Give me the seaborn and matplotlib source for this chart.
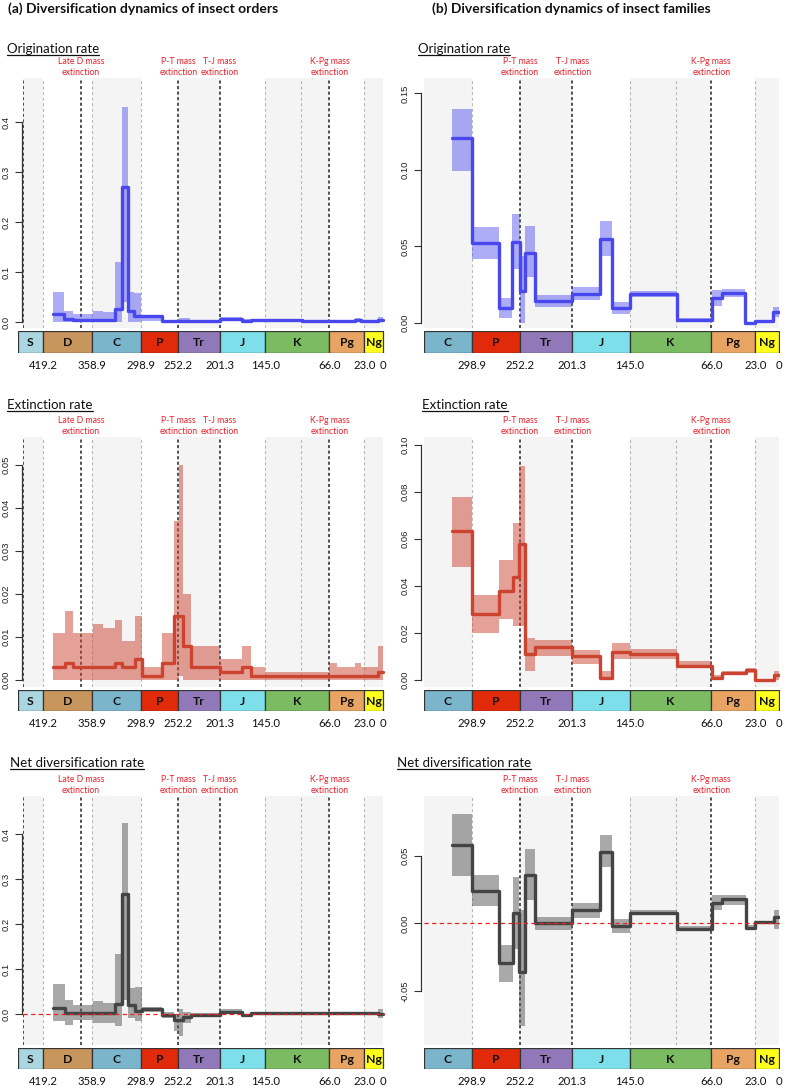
import numpy as np
import matplotlib
matplotlib.use('Agg')
import matplotlib.pyplot as plt
import seaborn as sns
from matplotlib.lines import Line2D

# ---------------- data ----------------
periods = ['S', 'D', 'C', 'P', 'Tr', 'J', 'K', 'Pg', 'Ng']
period_start = [443.8, 419.2, 358.9, 298.9, 252.2, 201.3, 145.0, 66.0, 23.0]
period_end = [419.2, 358.9, 298.9, 252.2, 201.3, 145.0, 66.0, 23.0, 0.0]
period_colors = ['#a9d6e0', '#c8965c', '#7ab5cb', '#e02a0a', '#9179b9',
                 '#7ddfe9', '#7bbb62', '#e8a462', '#ffff1e']
shaded_periods = ['S', 'C', 'Tr', 'K', 'Ng']

left_ticks = [419.2, 358.9, 298.9, 252.2, 201.3, 145.0, 66.0, 23.0, 0.0]
left_tick_labels = ['419.2', '358.9', '298.9', '252.2', '201.3', '145.0', '66.0', '23.0', '0']
right_ticks = [298.9, 252.2, 201.3, 145.0, 66.0, 23.0, 0.0]
right_tick_labels = ['298.9', '252.2', '201.3', '145.0', '66.0', '23.0', '0']

light_lines_left = [419.2, 358.9, 298.9, 145.0, 100.5, 23.0]
light_lines_right = [298.9, 145.0, 100.5, 23.0]
mass_ext_left = [443.8, 372.2, 252.2, 201.3, 66.0]
mass_ext_right = [252.2, 201.3, 66.0]
mass_labels_left = {372.2: 'Late D mass\nextinction', 252.2: 'P-T mass\nextinction',
                    201.3: 'T-J mass\nextinction', 66.0: 'K-Pg mass\nextinction'}
mass_labels_right = {252.2: 'P-T mass\nextinction', 201.3: 'T-J mass\nextinction',
                     66.0: 'K-Pg mass\nextinction'}

# insect orders
ord_orig_t = [407, 393, 382, 358, 345, 330, 322, 315, 307, 298.9, 272, 252, 238, 201.3,
              174, 163, 100, 57, 35, 27, 6, 0]
ord_orig_mean = [0.017, 0.006, 0.005, 0.005, 0.005, 0.027, 0.270, 0.023, 0.012, 0.012, 0.003,
                 0.003, 0.003, 0.007, 0.003, 0.004, 0.003, 0.002, 0.005, 0.002, 0.004]
ord_orig_lo = [0.0, 0.0, 0.0, 0.0, 0.0, 0.0, 0.040, 0.0, 0.0, 0.003, 0.0, 0.0, 0.0, 0.002,
               0.0, 0.001, 0.001, 0.0, 0.001, 0.0, 0.001]
ord_orig_hi = [0.060, 0.022, 0.017, 0.022, 0.020, 0.120, 0.430, 0.060, 0.058, 0.014, 0.005,
               0.008, 0.005, 0.011, 0.006, 0.007, 0.005, 0.004, 0.008, 0.004, 0.010]

ord_ext_t = [407, 392, 382, 358, 345, 330, 322, 306, 297, 272, 258, 252, 247, 237, 201.3,
             174, 163, 145, 66, 57, 35, 27, 6, 0]
ord_ext_mean = [0.003, 0.004, 0.003, 0.003, 0.003, 0.004, 0.003, 0.005, 0.001, 0.004, 0.015,
                0.015, 0.008, 0.003, 0.002, 0.003, 0.001, 0.001, 0.001, 0.001, 0.001, 0.001, 0.002]
ord_ext_lo = [0.0, 0.0, 0.0, 0.0, 0.0, 0.0, 0.0, 0.0, 0.0, 0.0, 0.0, 0.001, 0.0, 0.0, 0.0,
              0.0, 0.0, 0.0, 0.0, 0.0, 0.0, 0.0, 0.0]
ord_ext_hi = [0.011, 0.016, 0.011, 0.013, 0.012, 0.014, 0.009, 0.015, 0.003, 0.011, 0.037,
              0.050, 0.020, 0.008, 0.005, 0.008, 0.003, 0.002, 0.004, 0.003, 0.004, 0.003, 0.008]

ord_net_t = [407, 392, 382, 358, 345, 330, 322, 315, 306, 297, 272, 258, 252, 247, 237, 201.3,
             174, 163, 6, 0]
ord_net_mean = [0.014, 0.002, 0.002, 0.002, 0.002, 0.022, 0.267, 0.020, 0.006, 0.010, -0.003,
                -0.013, -0.013, -0.007, -0.002, 0.005, -0.002, 0.002, 0.001]
ord_net_lo = [-0.015, -0.024, -0.013, -0.020, -0.020, -0.027, 0.030, -0.010, -0.015, 0.004,
              -0.008, -0.037, -0.050, -0.020, -0.005, 0.000, -0.007, -0.002, -0.008]
ord_net_hi = [0.066, 0.030, 0.020, 0.028, 0.025, 0.133, 0.425, 0.058, 0.060, 0.015, 0.005,
              0.000, 0.010, 0.004, 0.002, 0.010, 0.001, 0.004, 0.010]

# insect families
fam_orig_t = [318, 298.9, 272.6, 259.7, 252.2, 247.3, 237.6, 201.3, 174.3, 163, 145, 99.6,
              65.5, 55.8, 33, 23, 5.5, 0]
fam_orig_mean = [0.121, 0.052, 0.010, 0.053, 0.021, 0.046, 0.0143, 0.019, 0.055, 0.0098,
                 0.0187, 0.002, 0.016, 0.0198, 0.0, 0.001, 0.007]
fam_orig_lo = [0.099, 0.042, 0.003, 0.035, 0.0, 0.030, 0.0104, 0.0152, 0.044, 0.006, 0.017,
               0.001, 0.011, 0.017, -0.0005, 0.0, 0.004]
fam_orig_hi = [0.140, 0.063, 0.0165, 0.071, 0.044, 0.0635, 0.018, 0.0235, 0.0665, 0.0135,
               0.0207, 0.003, 0.0217, 0.0224, 0.0007, 0.002, 0.0104]

fam_ext_t = [318, 298.9, 272.3, 259.3, 252.8, 247.3, 237.6, 201.3, 174.3, 163, 145, 99.6,
             65.6, 55.8, 32.2, 23, 5.2, 0]
fam_ext_mean = [0.0633, 0.028, 0.038, 0.044, 0.058, 0.011, 0.014, 0.010, 0.0007, 0.012, 0.011,
                0.006, 0.001, 0.003, 0.0043, 0.0, 0.002]
fam_ext_lo = [0.048, 0.020, 0.026, 0.023, 0.023, 0.004, 0.010, 0.007, 0.0, 0.009, 0.009,
              0.005, 0.0, 0.002, 0.003, -0.0005, 0.0]
fam_ext_hi = [0.078, 0.036, 0.051, 0.067, 0.091, 0.018, 0.017, 0.0126, 0.004, 0.0157, 0.013,
              0.008, 0.002, 0.004, 0.005, 0.0005, 0.004]

fam_net_t = [318, 298.9, 272.3, 259.3, 252.8, 247.3, 237.6, 201.3, 174.3, 163, 145, 99.6,
             65.6, 55.8, 32.2, 23, 5.2, 0]
fam_net_mean = [0.058, 0.024, -0.029, 0.008, -0.036, 0.036, 0.0005, 0.010, 0.053, -0.002,
                0.008, -0.004, 0.015, 0.018, -0.003, 0.001, 0.005]
fam_net_lo = [0.035, 0.013, -0.043, -0.019, -0.076, 0.017, -0.005, 0.004, 0.042, -0.007,
              0.006, -0.005, 0.010, 0.014, -0.005, 0.0, -0.004]
fam_net_hi = [0.081, 0.036, -0.016, 0.034, 0.010, 0.055, 0.0047, 0.015, 0.065, 0.003, 0.010,
              -0.002, 0.021, 0.021, -0.001, 0.002, 0.010]

# ---------------- style ----------------
sns.set_theme(style='white')
plt.rcParams['font.family'] = ['Lato', 'DejaVu Sans']
plt.rcParams['lines.scale_dashes'] = False

W, H = 787, 1090
fig = plt.figure(figsize=(W / 100, H / 100), dpi=100)


def add_ax(x0, y0, x1, y1):
    return fig.add_axes([x0 / W, 1 - y1 / H, (x1 - x0) / W, (y1 - y0) / H])


cols = {
    'left': dict(x0=23, x1=385, bx0=18, xlim=(443.9, -2.47), bxlim=(450.1, -2.47),
                 light=light_lines_left, black=mass_ext_left, mlabels=mass_labels_left,
                 ticks=left_ticks, tlabels=left_tick_labels, off=1, tx=[7, 7, 10]),
    'right': dict(x0=424, x1=780, bx0=424, xlim=(345.7, -0.97), bxlim=(345.7, -0.97),
                  light=light_lines_right, black=mass_ext_right, mlabels=mass_labels_right,
                  ticks=right_ticks, tlabels=right_tick_labels, off=2.2, tx=[418, 422, 397]),
}
rows = [
    dict(y0=78, y1=328, by0=331, by1=353, tb=53, title='Origination rate',
         line='#4848ee', band='#4848ee', balpha=0.45, zero=False),
    dict(y0=437, y1=687, by0=690, by1=711, tb=409, title='Extinction rate',
         line='#cc4430', band='#cc4430', balpha=0.5, zero=False),
    dict(y0=796, y1=1045, by0=1048, by1=1069, tb=767, title='Net diversification rate',
         line='#444444', band='#555555', balpha=0.5, zero=True),
]
series = {
    ('left', 0): (ord_orig_t, ord_orig_mean, ord_orig_lo, ord_orig_hi),
    ('left', 1): (ord_ext_t, ord_ext_mean, ord_ext_lo, ord_ext_hi),
    ('left', 2): (ord_net_t, ord_net_mean, ord_net_lo, ord_net_hi),
    ('right', 0): (fam_orig_t, fam_orig_mean, fam_orig_lo, fam_orig_hi),
    ('right', 1): (fam_ext_t, fam_ext_mean, fam_ext_lo, fam_ext_hi),
    ('right', 2): (fam_net_t, fam_net_mean, fam_net_lo, fam_net_hi),
}
ylims = {
    ('left', 0): (-0.012, 0.488), ('left', 1): (-0.0016, 0.0565), ('left', 2): (-0.069, 0.4844),
    ('right', 0): (-0.0033, 0.1601), ('right', 1): (-0.003, 0.1034), ('right', 2): (-0.0897, 0.0941),
}
yticks = {
    ('left', 0): ([0, 0.1, 0.2, 0.3, 0.4], '%.1f'),
    ('left', 1): ([0, 0.01, 0.02, 0.03, 0.04, 0.05], '%.2f'),
    ('left', 2): ([0, 0.1, 0.2, 0.3, 0.4], '%.1f'),
    ('right', 0): ([0, 0.05, 0.10, 0.15], '%.2f'),
    ('right', 1): ([0, 0.02, 0.04, 0.06, 0.08, 0.10], '%.2f'),
    ('right', 2): ([-0.05, 0, 0.05], '%.2f'),
}

subtitles = []
for ck, c in cols.items():
    for ri, r in enumerate(rows):
        ax = add_ax(c['x0'], r['y0'], c['x1'], r['y1'])
        ax.set_facecolor('white')
        ax.set_xlim(*c['xlim'])
        ax.set_ylim(*ylims[(ck, ri)])
        # period shading
        for name, s, e in zip(periods, period_start, period_end):
            if name in shaded_periods:
                ax.axvspan(s, e, color='#f4f4f4', lw=0, zorder=0)
        for xv in c['light']:
            ax.axvline(xv, color='#b8b8b8', lw=0.8, dashes=(2.2, 1.8), zorder=1)
        for xv in c['black']:
            ax.axvline(xv, color='#222222', lw=1.1, dashes=(2.2, 1.8), zorder=1)
        t, m, lo, hi = series[(ck, ri)]
        xs = list(t)
        ax.fill_between(xs, list(lo) + [lo[-1]], list(hi) + [hi[-1]], step='post',
                        color=r['band'], alpha=r['balpha'], lw=0, zorder=2)
        sns.lineplot(x=xs, y=list(m) + [m[-1]], sort=False, estimator=None,
                     drawstyle='steps-post', color=r['line'], lw=2.4, ax=ax, zorder=3)
        if r['zero']:
            ax.axhline(0, color='#ee2020', lw=0.9, dashes=(3, 2.5), zorder=5)
        tk, fmt = yticks[(ck, ri)]
        ax.set_xticks([])
        ax.set_yticks(tk)
        for sp in ax.spines.values():
            sp.set_color('#333333')
            sp.set_linewidth(0.9)
        sns.despine(ax=ax, bottom=True, offset={'left': c['off']}, trim=True)
        ax.set_ylim(*ylims[(ck, ri)])
        ax.set_yticks(tk)
        ax.set_yticklabels([fmt % v for v in tk], rotation=90, va='center',
                           family=['Liberation Sans'], fontsize=6.8, color='#222222')
        ax.tick_params(axis='y', length=5, width=0.8, color='#333333', pad=3, left=True)
        # mass extinction labels
        for xv, lab in c['mlabels'].items():
            ax.text(xv, 1.004, lab, transform=ax.get_xaxis_transform(), ha='center',
                    va='bottom', color='#e8202a', fontsize=6.2, linespacing=1.3)
        # subtitle
        st = fig.text(c['tx'][ri] / W, 1 - r['tb'] / H, r['title'], fontsize=9.5,
                      va='baseline', ha='left', color='#111111')
        subtitles.append(st)

        # timescale box
        bx = add_ax(c['bx0'], r['by0'], c['x1'], r['by1'])
        bx.set_xlim(*c['bxlim'])
        bx.set_ylim(0, 1)
        for sp in bx.spines.values():
            sp.set_visible(False)
        vis = [(n, s, e, col) for n, s, e, col in zip(periods, period_start, period_end, period_colors)
               if e < c['bxlim'][0]]
        lefts = [e for _, _, e, _ in vis]
        widths = [min(s, c['bxlim'][0]) - e for _, s, e, _ in vis]
        widths[0] = c['bxlim'][0] - vis[0][2]
        bx.barh([0.5] * len(vis), widths, left=lefts, height=1.0,
                color=[v[3] for v in vis], edgecolor='#333333', linewidth=0.9)
        for (n, s, e, col), w in zip(vis, widths):
            bx.text(e + w / 2, 0.47, n, ha='center', va='center', fontsize=8.8,
                    fontweight='bold', color='#111111')
        bx.set_yticks([])
        bx.set_xticks(c['ticks'])
        bx.set_xticklabels(c['tlabels'], fontsize=8.2, color='#111111')
        bx.tick_params(axis='x', length=0, pad=5, bottom=True)

fig.text(8 / W, 1 - 12.5 / H, '(a) Diversification dynamics of insect orders',
         fontsize=10, fontweight='bold', va='baseline', color='#111111')
fig.text(432 / W, 1 - 12.5 / H, '(b) Diversification dynamics of insect families',
         fontsize=10, fontweight='bold', va='baseline', color='#111111')

# underline subtitles
fig.canvas.draw()
inv = fig.transFigure.inverted()
for st in subtitles:
    bb = st.get_window_extent().transformed(inv)
    yb = st.get_position()[1] - 1.6 / H
    fig.add_artist(Line2D([bb.x0, bb.x1], [yb, yb], transform=fig.transFigure,
                          color='#111111', lw=0.9))

fig.savefig('out.png', dpi=100)
